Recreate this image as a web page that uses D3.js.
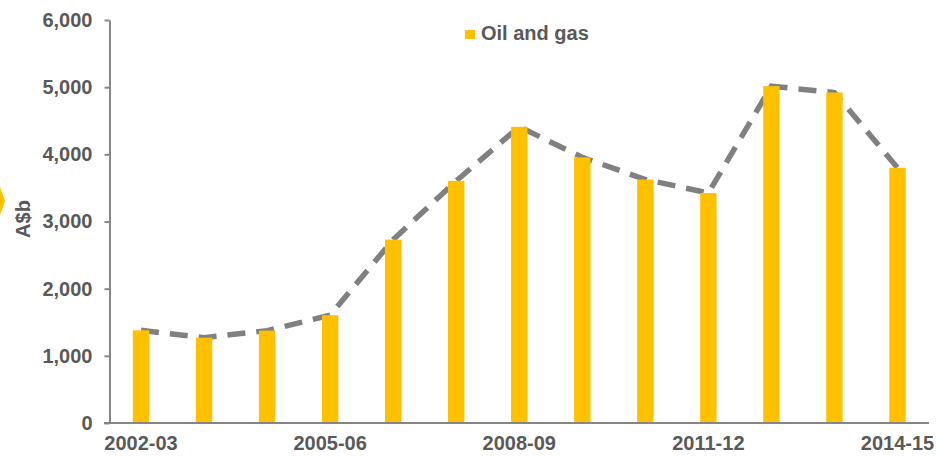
<!DOCTYPE html>
<html lang="en">
<head>
    <meta charset="UTF-8">
    <script src="https://d3js.org/d3.v7.min.js"></script>
    <title>Oil and gas</title>
    <style>
        body { margin: 0; background: #fff; }
        text { font-family: "Liberation Sans", Arial, sans-serif; font-weight: bold; fill: #595959; }
    </style>
</head>
<body>
    <svg id="chart"></svg>
    <script>
        // data
        const years = ["2002-03", "2003-04", "2004-05", "2005-06", "2006-07", "2007-08", "2008-09",
                       "2009-10", "2010-11", "2011-12", "2012-13", "2013-14", "2014-15"];
        const oilGas = [1380, 1270, 1375, 1605, 2730, 3605, 4410, 3955, 3625, 3425, 5015, 4920, 3800];
        const yTicks = [0, 1000, 2000, 3000, 4000, 5000, 6000];
        const xLabels = ["2002-03", "2005-06", "2008-09", "2011-12", "2014-15"];

        const w = 937;
        const h = 456;
        const yellow = "#FFC000";
        const grey = "#868686";

        const svg = d3.select("#chart")
            .attr("width", w)
            .attr("height", h);

        const x = d3.scaleBand()
            .domain(years)
            .range([109.5, 929])
            .paddingInner(0.74)
            .paddingOuter(0.37);

        const y = d3.scaleLinear()
            .domain([0, 6000])
            .range([423, 20]);

        // little chevron cut off at the left edge
        svg.append("polygon")
            .attr("points", "0,187 5,201 0,215")
            .attr("fill", yellow);

        // dashed trend line, drawn under the bars
        const line = d3.line()
            .x((d, i) => x(years[i]) + x.bandwidth() / 2)
            .y(d => y(d));

        svg.append("path")
            .datum(oilGas)
            .attr("d", line)
            .attr("fill", "none")
            .attr("stroke", "#808080")
            .attr("stroke-width", 5.5)
            .attr("stroke-dasharray", "18,11");

        svg.selectAll("rect.bar")
            .data(oilGas)
            .enter()
            .append("rect")
            .attr("class", "bar")
            .attr("x", (d, i) => x(years[i]))
            .attr("y", d => y(d))
            .attr("width", x.bandwidth())
            .attr("height", d => y(0) - y(d))
            .attr("fill", yellow);

        // y axis
        const yAxis = svg.append("g")
            .attr("transform", "translate(109.5,0)")
            .call(d3.axisLeft(y).tickValues(yTicks).tickFormat(d3.format(",")).tickSize(5).tickSizeOuter(0).tickPadding(12));
        yAxis.selectAll("path, line").attr("stroke", grey).attr("stroke-width", 2);
        yAxis.selectAll("text").attr("font-size", 20).style("font-family", null);

        // x axis
        const xAxis = svg.append("g")
            .attr("transform", "translate(0,423)")
            .call(d3.axisBottom(x).tickValues(xLabels).tickSize(0).tickSizeOuter(0).tickPadding(13));
        xAxis.select(".domain").attr("d", "M104,0H929").attr("stroke", grey).attr("stroke-width", 2);
        xAxis.selectAll("text").attr("font-size", 20).style("font-family", null);

        // axis title
        svg.append("text")
            .attr("transform", "translate(30,219) rotate(-90)")
            .attr("text-anchor", "middle")
            .attr("font-size", 20)
            .text("A$b");

        // legend
        svg.append("rect")
            .attr("x", 465)
            .attr("y", 30)
            .attr("width", 10)
            .attr("height", 9)
            .attr("fill", yellow);

        svg.append("text")
            .attr("x", 481)
            .attr("y", 40)
            .attr("font-size", 20)
            .text("Oil and gas");
    </script>
</body>
</html>
